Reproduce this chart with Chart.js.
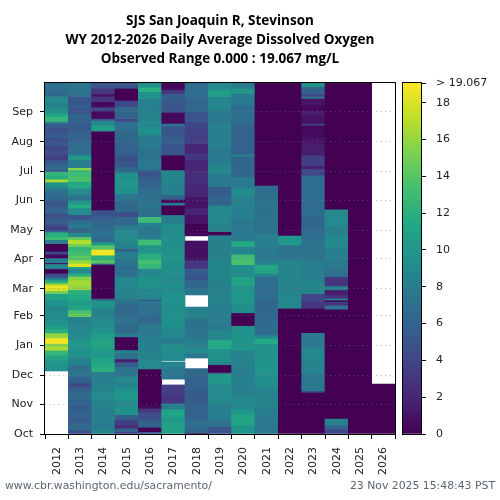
<!DOCTYPE html>
<html><head><meta charset="utf-8">
<style>html,body{margin:0;padding:0;background:#fff}canvas{position:absolute;left:0;top:0}</style>
<script src="https://cdn.jsdelivr.net/npm/chart.js@4"></script></head>
<body><canvas id="c" width="500" height="500"></canvas><canvas id="b" width="500" height="500"></canvas>
<script>
const titleLines=["SJS San Joaquin R, Stevinson","WY 2012-2026 Daily Average Dissolved Oxygen","Observed Range 0.000 : 19.067 mg/L"];
const sourceText="www.cbr.washington.edu/sacramento/";
const stampText="23 Nov 2025 15:48:43 PST";
const years=["2012","2013","2014","2015","2016","2017","2018","2019","2020","2021","2022","2023","2024","2025","2026"];
const monthNames=["Oct","Nov","Dec","Jan","Feb","Mar","Apr","May","Jun","Jul","Aug","Sep"];
const monthDays=[0,31,61,92,123,151,182,212,243,273,304,335];
const barTicks=[0,2,4,6,8,10,12,14,16,18,19.067];
// each pair: [last day of water year in the band, dissolved oxygen mg/L]; null = no record
const wy2012=[[65.5,null],[71,9.5],[77,10],[82,11],[87,12.5],[91,16.5],[94,15.5],[100,18.7],[105,16],[109,12],[113,10.5],[118,9.5],[122,9],[128,9.3],[133,8.7],[140,9.5],[146,11],[149,15],[152,18],[155,18.5],[157,16],[160,12],[162,9],[163.6,6],[167,4.5],[171.6,0],[173,7],[177,9],[178,0.3],[183,8],[187,0.5],[190,4],[198,0],[202,8],[205,13],[210,12],[212,6],[216,3.5],[219,4.5],[224,5.5],[229.5,4.5],[233,6.5],[236.5,5.8],[243,5.2],[250,6.5],[254,7],[257,8],[262,9.5],[265,16.5],[269,12],[273,12.5],[275,5],[280,6.5],[285,5.5],[290,3.5],[295,4.5],[300,4],[304,5],[308,4.5],[313,5.5],[318,4.7],[323,5.3],[325,8],[330,12.5],[333.5,11.5],[339,9.5],[345,8.5],[351,9],[358,6.5],[365,7]];
const wy2013=[[4,4.5],[11,6.5],[18,5.5],[25,6],[30,5.5],[37,6],[44,6.5],[49,6],[53,4],[60,6],[65,7.5],[72,7],[80,8.5],[90,9.5],[98,10],[106,9],[114,8.7],[122,8.2],[125.5,14.5],[129,13.5],[134,11],[139,10.5],[145,11.5],[150,12],[155,16],[160,16.5],[164,15.5],[167,12],[172,9],[174,11],[177.5,18],[181,16],[186,14],[191,13],[195,12.5],[198,15],[202,17],[205,14.5],[209.5,9],[214,6],[218,7.8],[222.5,7],[228,5],[235,9],[239,11.5],[243,10],[248.5,7.5],[255.5,9],[262.5,11.5],[268,13.5],[273,13],[274.5,12.5],[277,15.5],[285,8],[290,10],[295.5,7],[305,6.7],[316,6],[325,5.5],[333.5,6],[339,5],[344,5.5],[351,5],[358,7],[365,7.5]];
const wy2014=[[6,8.7],[12,7.7],[18,8.2],[25,8],[32,8.5],[38,8.7],[44,9],[52,8.5],[60,8],[65,8],[70,12],[75,11.5],[80,11],[86,10],[91,10.5],[98,11],[105,10.5],[112,9.5],[120,9],[131,8.5],[139,9.5],[141,6],[176,0],[177.5,5],[181,14],[186,12],[192,18.7],[196.5,14],[200,10],[206,6.5],[212,7.2],[222.5,6.5],[228,5.5],[233,4.7],[315,0],[321.5,10.5],[326,9],[328,5],[336,0.5],[340,4],[345.7,0.5],[351,3],[354,1],[359.5,3],[365,5]];
const wy2015=[[2,3],[6,6],[10,2.5],[14.5,3.5],[20,5.5],[28,9.5],[35,9],[42,10],[49,9.5],[55,8.5],[60,9],[70,7.5],[75,5.5],[78,1.5],[84,7],[87.5,8.5],[101,0],[105,8],[115,6.5],[124,7],[136,6.5],[141,7.5],[151.5,8.5],[163.6,8.7],[170,7.2],[174,6.7],[181,7.5],[190,8],[193,6],[200,8.5],[212,9],[217,8],[226,6.5],[231,4.5],[243,6.5],[250,7.5],[258,9.5],[265,10],[272,9.5],[278,6.5],[284,5],[290,4.7],[297,5.7],[304,6],[316,6.5],[325,7],[328,4],[333.5,6],[340.5,6.5],[347,4],[359.5,0],[365,5]];
const wy2016=[[2.4,5],[7,0],[14.5,6],[23,4.5],[26.7,3],[30,0.5],[67.6,0],[69,8.5],[77,9],[87,8.5],[95,8.2],[103,8],[115,7.7],[124,6.5],[132,7],[136,7.3],[139,7.5],[140,4],[151.5,8.7],[163.6,9.5],[172,8.7],[177,12.5],[181,13.5],[188,12],[196.5,9.7],[202.5,13],[207,8],[215.6,7.5],[220,8.5],[226,13],[235,7],[241.6,7.5],[248,7],[257,6.7],[267.6,6],[274.6,5],[286.7,7.7],[297,7.2],[311,7.8],[318,9.5],[325,9],[335,8.5],[349,8.2],[356,9.5],[360.5,12],[365,9.5]];
const wy2017=[[11,10.8],[18,10.3],[26,11],[32,8],[40.5,3],[51,3.5],[57,null],[63,7.5],[70,7.8],[75,8.5],[76.3,null],[85,9],[94,9.3],[99.5,7.8],[111.6,8.8],[125,9.5],[136,9.3],[146,9.6],[156.7,9.3],[167,9],[181,9.4],[191,9.7],[205,9.4],[219,9.2],[228,8],[238,0],[240.6,8],[244,0.3],[248.6,6],[260,8.3],[274.6,8.6],[290,0],[302,5],[311,5.5],[320,5],[323,7],[334.5,0.5],[345.7,5],[354,5.5],[358,3],[359.5,1],[365,0.3]];
const wy2018=[[1.4,0.3],[8,6.5],[14.5,7],[32,6],[46,5.5],[59,6],[68,6.5],[79,null],[84,7.5],[90,9],[99.5,8],[110,7.5],[120,7.2],[132,8.3],[144.6,null],[151.5,7.5],[160,6.5],[167,5],[172,5.5],[181,3],[200.7,0.8],[206,null],[210,0.5],[219,0],[228,1],[235,2],[247,1],[261,2],[273,2.5],[285,2],[292,3],[302,2],[318,3.5],[325,4],[335,5],[351,6.3],[365,6.8]];
const wy2019=[[7.6,5],[14.5,7],[32,8],[52.7,9],[63,10],[64,6],[72,0],[75,8.5],[89,9.5],[98,11.5],[108,8.7],[115,7.8],[136,8],[146,8.5],[160,8.3],[181,8.6],[205,8.3],[207,8],[210.5,0],[219,8.5],[238,8.8],[248.6,6],[257,5.5],[271,7.8],[281.5,8.6],[299,7.8],[323,8.2],[337,7.8],[351,8.6],[358,10.5],[365,9]];
const wy2020=[[9.4,9.8],[21.5,11],[26.7,9.8],[39,8.8],[61,8.2],[70,8],[87,8.5],[100,9.8],[112.7,9.5],[126,0],[136,9.3],[146,10],[154,9.6],[163.6,11],[176,9.3],[181,13.5],[187,13],[195,8.6],[200.7,11.5],[207,7.8],[222.5,7.6],[234.7,8],[248.6,8.4],[255.5,9.3],[267.6,7.8],[289,6.3],[291,8.5],[300.6,6],[323,6],[342,6.8],[354,7.8],[359.5,10],[365,7.8]];
const wy2021=[[18,7.6],[27,8],[49,8.4],[60,9.4],[73.5,9.8],[94,9.6],[99.5,11.5],[103,9.2],[118.6,6.7],[139.4,6.3],[151.5,6.8],[163.6,6.8],[167,8.5],[172,11],[176,11.5],[181,8.5],[195,7.7],[209,8],[224,7.2],[235,7.2],[248.6,7.2],[258.6,6.8],[365,0]];
const wy2022=[[130.7,0],[146,8.8],[165,8.5],[181,8.6],[196.6,7.3],[206.6,10],[365,0]];
const wy2023=[[43.3,0],[45,4],[63,7.6],[77,8.4],[90,8.8],[101,7.7],[105.4,7.7],[130.7,0],[137.6,3],[146,4],[160,8.6],[174,8],[181,8],[202,7.3],[212,6.8],[226,6.3],[236.5,6.8],[269,6.8],[276,4],[278.7,1.5],[290,3.5],[302,1.5],[309,1],[321,0.5],[323,3.5],[332,1],[336,1.5],[342,0.5],[349,1],[351,7],[354,4],[361,6],[365,9.5]];
const wy2024=[[5,4],[9.4,6],[16.3,8.5],[129.7,0],[134,7],[137.6,3],[139.4,0.7],[141,8.5],[144.6,3],[150,1.5],[154,8],[163.6,3],[172,7],[181,7.8],[195,8.2],[205,9],[217,8.2],[233.7,9],[365,0]];
const wy2025=[[365,0]];
const wy2026=[[52,0],[365,null]];
const allYears=[wy2012,wy2013,wy2014,wy2015,wy2016,wy2017,wy2018,wy2019,wy2020,wy2021,wy2022,wy2023,wy2024,wy2025,wy2026];

const VMAX=19.067;
const viridis=["#440154","#482475","#414487","#355f8d","#2a788e","#21918c","#22a884","#44bf70","#7ad151","#bddf26","#fde725"];
const rgb=h=>[1,3,5].map(i=>parseInt(h.substr(i,2),16));
function colorOf(v){
  const t=Math.min(1,Math.max(0,v/VMAX))*(viridis.length-1),i=Math.min(viridis.length-2,Math.floor(t)),f=t-i;
  const a=rgb(viridis[i]),b=rgb(viridis[i+1]);
  return `rgb(${a.map((c,k)=>Math.round(c+(b[k]-c)*f)).join(",")})`;
}
const cells=[],cellColors=[];
allYears.forEach((bands,yi)=>{let s=0;bands.forEach(([e,v])=>{if(v!==null){cells.push({x:years[yi],y:[s,e]});cellColors.push(colorOf(v));}s=e;});});

const FONT="'DejaVu Sans'";
const frame={id:"frame",afterDraw(ch){const a=ch.chartArea,c=ch.ctx;c.save();c.strokeStyle="#000";c.lineWidth=1;
  c.strokeRect(Math.round(a.left)-.5,Math.round(a.top)-.5,Math.round(a.right-a.left)+1,Math.round(a.bottom-a.top)+1);c.restore();}};
const footer={id:"footer",afterDraw(ch){const c=ch.ctx;c.save();c.fillStyle="#5c6670";c.font="10.85px "+FONT;c.textBaseline="alphabetic";
  c.textAlign="left";c.fillText(sourceText,5,489);c.textAlign="right";c.fillText(stampText,495,489);c.restore();}};

new Chart(document.getElementById("c"),{type:"bar",
 data:{labels:years,datasets:[{data:cells,backgroundColor:cellColors,barPercentage:1,categoryPercentage:1,borderWidth:0}]},
 plugins:[frame,footer],
 options:{responsive:false,animation:false,events:[],
  layout:{padding:{left:0,right:105,top:0,bottom:0}},
  plugins:{legend:{display:false},tooltip:{enabled:false},
   title:{display:true,text:titleLines,fullSize:false,color:"#000",font:{family:"'Open Sans'",size:13.5,weight:"bold",lineHeight:19/13.5},padding:{top:12,bottom:14}}},
  scales:{
   x:{type:"category",grid:{drawOnChartArea:false,tickColor:"#000",tickLength:5},border:{display:false},
      ticks:{color:"#222",font:{family:FONT,size:11},minRotation:90,maxRotation:90,autoSkip:false,padding:8},
      afterFit(s){s.height=66;}},
   y:{type:"linear",min:0,max:365,
      grid:{z:1,color:"rgba(120,120,120,0.55)",lineWidth:1,tickColor:"#000",tickLength:5,tickBorderDash:[]},
      border:{display:false,dash:[1,3.6]},
      afterBuildTicks(s){s.ticks=monthDays.map(v=>({value:v}));},
      ticks:{color:"#222",font:{family:FONT,size:11},autoSkip:false,padding:7,callback:(v,i)=>monthNames[i]},
      afterFit(s){s.width=45;}}
  }}});

new Chart(document.getElementById("b"),{type:"bar",
 data:{labels:["mg/L"],datasets:[{data:[[0,VMAX]],barPercentage:1,categoryPercentage:1,borderWidth:0,
   backgroundColor(ctx){const a=ctx.chart.chartArea;if(!a)return viridis[5];
     const g=ctx.chart.ctx.createLinearGradient(0,a.bottom,0,a.top);viridis.forEach((c,i)=>g.addColorStop(i/(viridis.length-1),c));return g;}}]},
 plugins:[frame],
 options:{responsive:false,animation:false,events:[],
  layout:{padding:{left:403,right:0,top:83,bottom:66}},
  plugins:{legend:{display:false},tooltip:{enabled:false},title:{display:false}},
  scales:{
   x:{display:false},
   y:{type:"linear",position:"right",min:0,max:VMAX,grid:{drawOnChartArea:false,tickColor:"#000",tickLength:5},border:{display:false},
      afterBuildTicks(s){s.ticks=barTicks.map(v=>({value:v}));},
      ticks:{color:"#222",font:{family:FONT,size:11},autoSkip:false,padding:10,callback:(v)=>v===VMAX?"> 19.067":String(v)},
      afterFit(s){s.width=79;}}
  }}});
</script></body></html>
